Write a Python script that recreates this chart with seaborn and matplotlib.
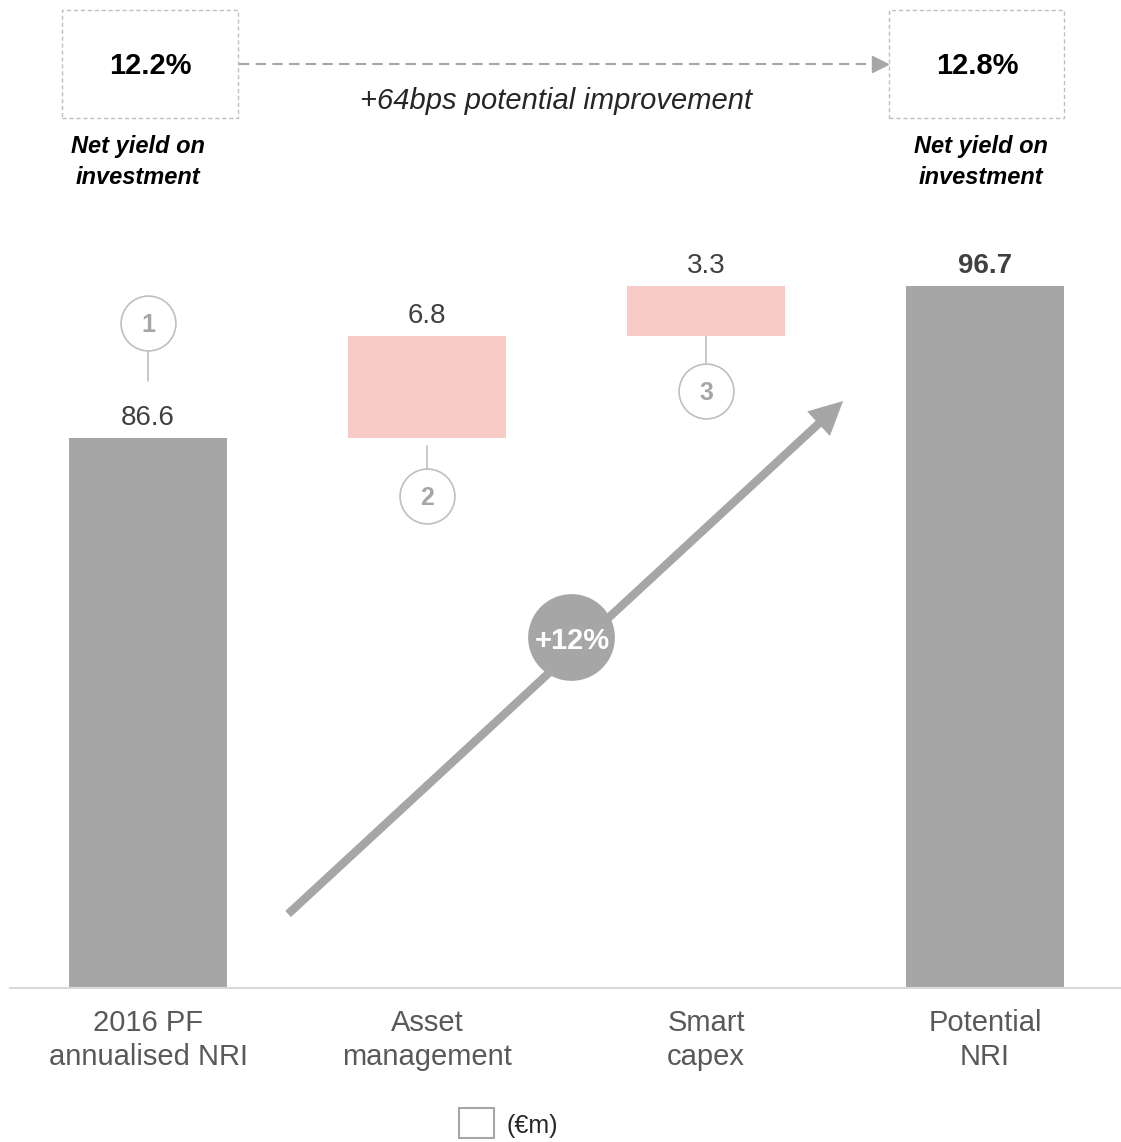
import matplotlib
matplotlib.use("Agg")
import matplotlib.pyplot as plt
import seaborn as sns
import pandas as pd
from matplotlib.patches import Rectangle
from matplotlib.lines import Line2D

# ---- data -------------------------------------------------------------
categories = ["2016 PF\nannualised NRI", "Asset\nmanagement", "Smart\ncapex", "Potential\nNRI"]
values = [86.6, 6.8, 3.3, 96.7]
kinds = ["total", "step", "step", "total"]
step_markers = ["1", "2", "3"]
yield_start = "12.2%"
yield_end = "12.8%"
yield_caption = "Net yield on\ninvestment"
improvement_text = "+64bps potential improvement"
growth_text = "+12%"
unit_text = "(€m)"

# ---- styling ----------------------------------------------------------
GREY = "#A6A6A6"
PINK = "#F8CBC6"
LIGHT = "#BFBFBF"
TEXT_DARK = "#404040"
TEXT_MID = "#595959"

sns.set_theme(style="white")
plt.rcParams["font.family"] = ["Liberation Sans", "DejaVu Sans"]

W, H = 1121, 1142
fig = plt.figure(figsize=(W / 100, H / 100), dpi=100)

# axes geometry in pixels
AX_LEFT, AX_RIGHT, AX_BASE, AX_TOP = 10, 1121, 988, 0
ax = fig.add_axes([AX_LEFT / W, 1 - AX_BASE / H, (AX_RIGHT - AX_LEFT) / W, (AX_BASE - AX_TOP) / H])

Y_MIN = 50
PX_PER_UNIT = 15.03
Y_MAX = Y_MIN + (AX_BASE - AX_TOP) / PX_PER_UNIT


def px(d):
    """Convert a vertical pixel distance into data units."""
    return d / PX_PER_UNIT


# waterfall bottoms
bottoms = []
running = 0.0
for v, k in zip(values, kinds):
    if k == "total":
        bottoms.append(0.0)
        running = v
    else:
        bottoms.append(running)
        running += v

df = pd.DataFrame({"category": categories, "value": values})
sns.barplot(data=df, x="category", y="value", order=categories, color=GREY,
            width=0.567, bottom=bottoms, errorbar=None, saturation=1,
            linewidth=0, ax=ax)
for patch, kind in zip(ax.patches, kinds):
    patch.set_facecolor(GREY if kind == "total" else PINK)
    patch.set_edgecolor("none")

ax.set_xlim(-0.495, 3.487)
ax.set_ylim(Y_MIN, Y_MAX)
ax.set_xlabel("")
ax.set_ylabel("")
ax.set_yticks([])
ax.set_xticks(range(len(categories)))
ax.set_xticklabels(categories, fontsize=21, color=TEXT_MID, linespacing=1.3)
ax.tick_params(axis="x", length=0, pad=15)
for s in ["left", "right", "top"]:
    ax.spines[s].set_visible(False)
ax.spines["bottom"].set_color("#D9D9D9")
ax.spines["bottom"].set_linewidth(1.5)

# value labels
for i, (v, b, k) in enumerate(zip(values, bottoms, kinds)):
    ax.annotate(f"{v:.1f}", (i, b + v), xytext=(0, 9.5), textcoords="offset points",
                ha="center", va="baseline", fontsize=20, color=TEXT_DARK,
                fontweight="bold" if i == len(values) - 1 else "normal")


def step_circle(x, y, label, line_from, line_to):
    ax.plot([x, x], [line_from, line_to], color=LIGHT, lw=1.2, zorder=3)
    ax.scatter([x], [y], s=1560, facecolor="white", edgecolor=LIGHT, linewidth=1.2, zorder=4)
    ax.text(x, y - px(2), label, ha="center", va="center", fontsize=18, fontweight="bold",
            color=GREY, zorder=5)


# numbered markers
top0 = bottoms[0] + values[0]
step_circle(0, top0 + px(115), step_markers[0], top0 + px(57), top0 + px(87))
b1 = bottoms[1]
step_circle(1, b1 - px(58), step_markers[1], b1 - px(8), b1 - px(31))
b2 = bottoms[2]
step_circle(2, b2 - px(55), step_markers[2], b2, b2 - px(28))

# growth arrow
x_of = lambda p: (p - 148) / 279
y_of = lambda p: Y_MIN + px(AX_BASE - p)
ax.annotate("", xy=(x_of(843), y_of(401)), xytext=(x_of(288), y_of(914)),
            arrowprops=dict(arrowstyle="-|>", color=GREY, lw=6, mutation_scale=36,
                            shrinkA=0, shrinkB=0, capstyle="butt", joinstyle="miter"),
            zorder=3)
ax.scatter([x_of(571)], [y_of(637)], s=3900, color=GREY, zorder=4, linewidth=0)
ax.text(x_of(572), y_of(641), growth_text, ha="center", va="center", fontsize=21,
        fontweight="bold", color="white", zorder=5)

# ---- yield boxes at the top -------------------------------------------
fx = lambda p: p / W
fy = lambda p: 1 - p / H

for (x0, x1), val, cx in [((62, 238), yield_start, 150), ((889, 1064), yield_end, 977)]:
    fig.patches.append(Rectangle((fx(x0), fy(118)), fx(x1) - fx(x0), fy(10) - fy(118),
                                 transform=fig.transFigure, fill=False, edgecolor=LIGHT,
                                 linewidth=1.0, linestyle=(0, (3, 2))))
    fig.text(fx(cx), fy(66), val, ha="center", va="center", fontsize=21,
             fontweight="bold", color="black")

fig.text(fx(138), fy(162), yield_caption, ha="center", va="center", fontsize=17,
         fontweight="bold", fontstyle="italic", color="black", linespacing=1.4)
fig.text(fx(981), fy(162), yield_caption, ha="center", va="center", fontsize=17,
         fontweight="bold", fontstyle="italic", color="black", linespacing=1.4)

fig.lines.append(Line2D([fx(239), fx(874)], [fy(64), fy(64)], transform=fig.transFigure,
                        color=GREY, lw=1.5, linestyle=(0, (5, 3))))
fig.lines.append(Line2D([fx(880)], [fy(64)], transform=fig.transFigure, color=GREY,
                        marker=">", markersize=11, linestyle="none"))
fig.text(fx(556), fy(101), improvement_text, ha="center", va="center", fontsize=21,
         fontstyle="italic", color="#262626")

# unit note
fig.patches.append(Rectangle((fx(459), fy(1138)), fx(494) - fx(459), fy(1108) - fy(1138),
                             transform=fig.transFigure, fill=False, edgecolor=GREY,
                             linewidth=1.5))
fig.text(fx(506), fy(1126), unit_text, ha="left", va="center", fontsize=18, color="#262626")

fig.savefig("out.png", dpi=100)
